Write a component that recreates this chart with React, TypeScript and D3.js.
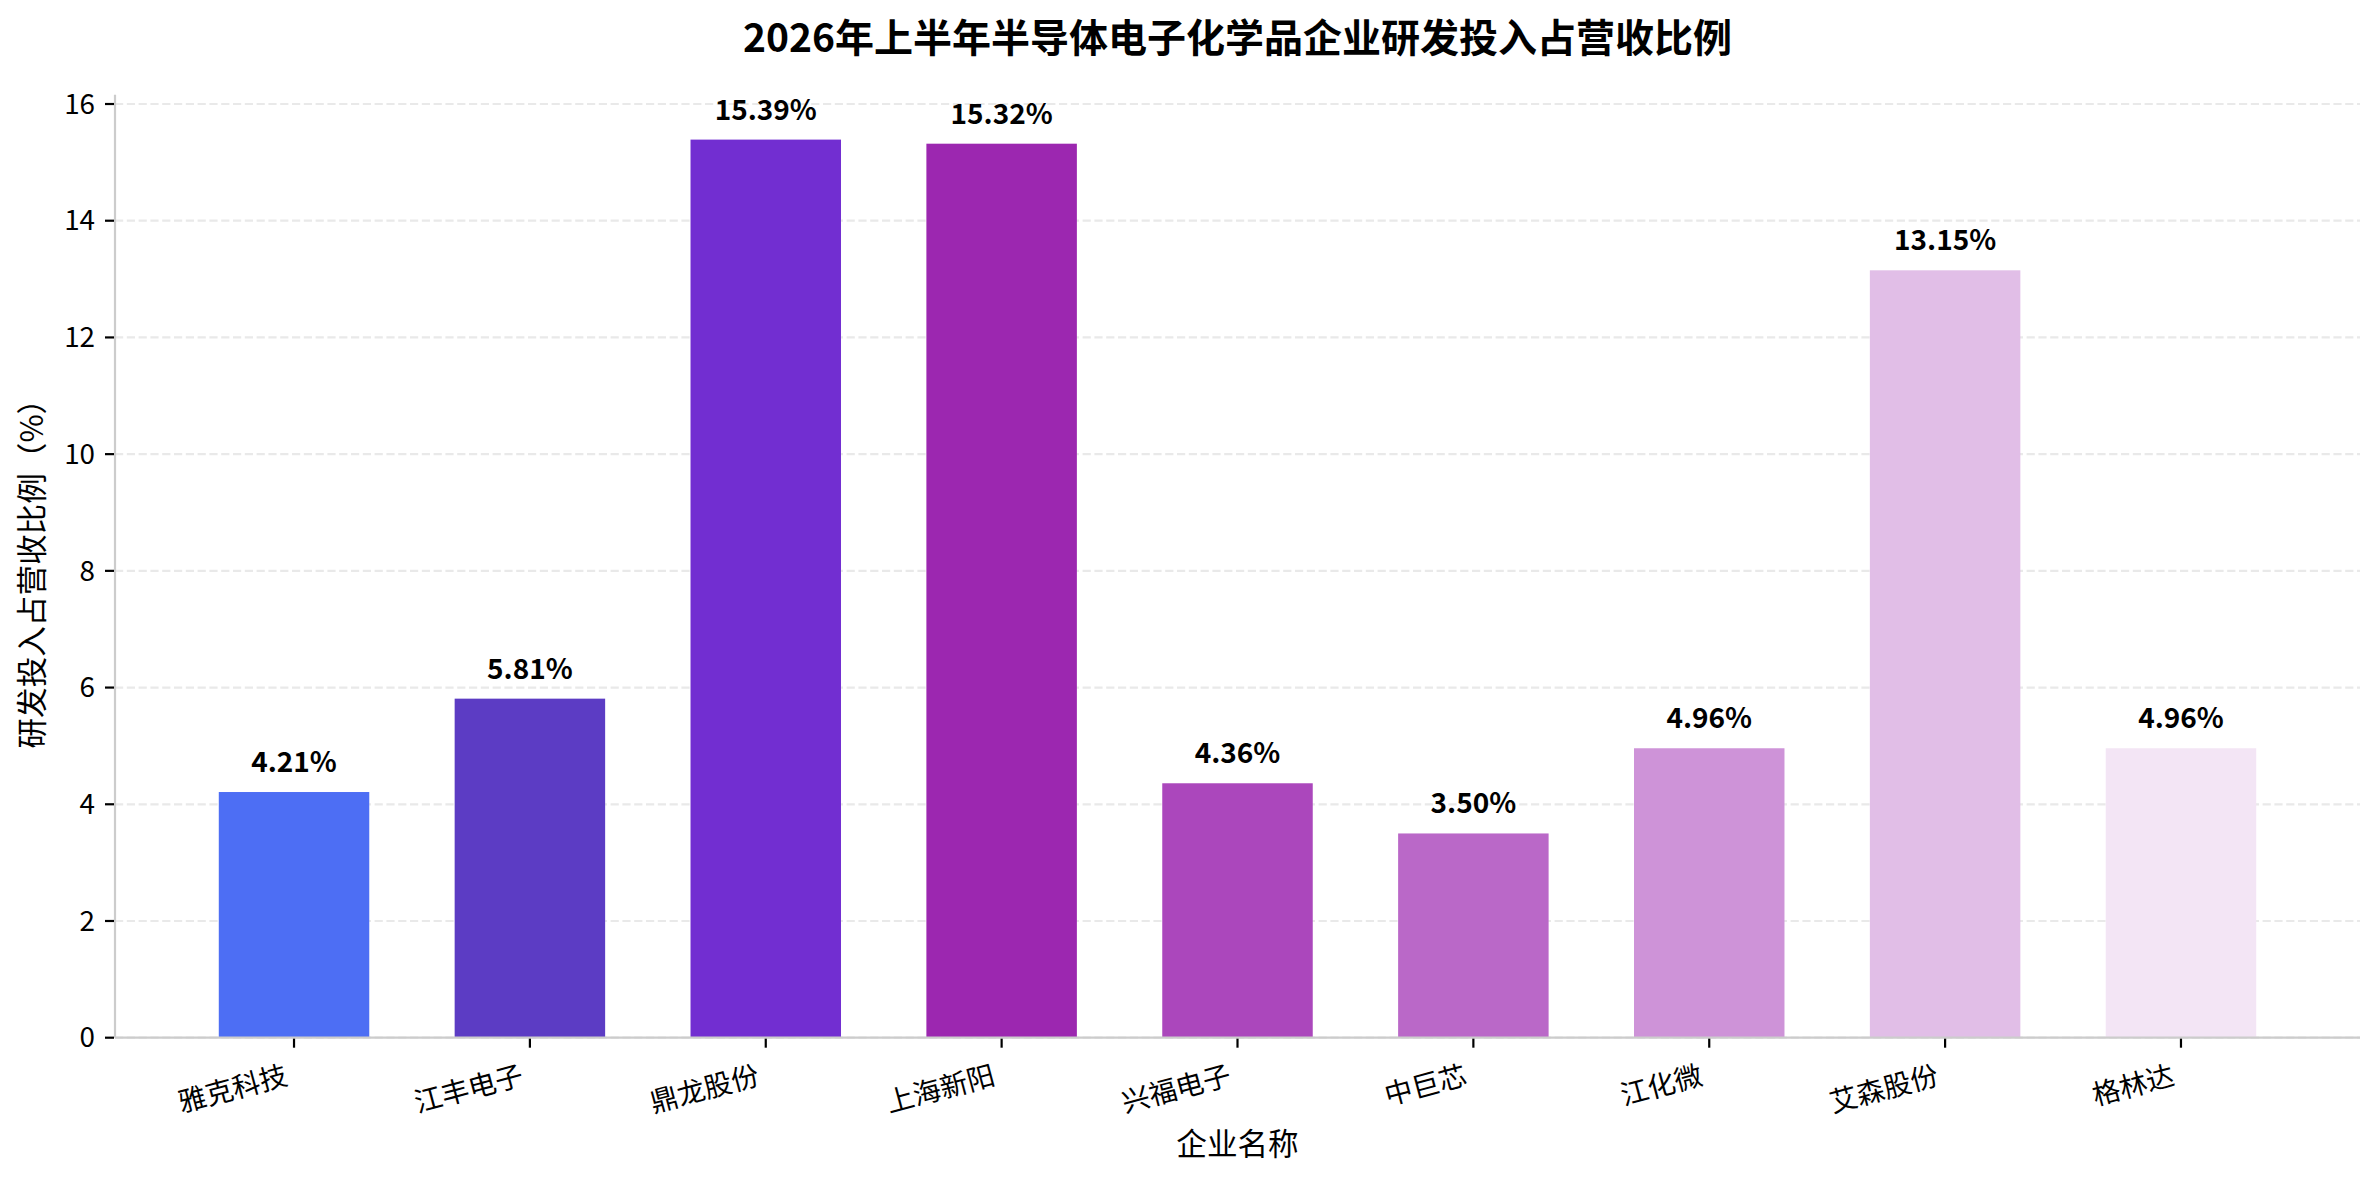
import React, { useEffect } from "react";
import * as d3 from "d3";

const companies = ["雅克科技", "江丰电子", "鼎龙股份", "上海新阳", "兴福电子", "中巨芯", "江化微", "艾森股份", "格林达"];
const ratios = [4.21, 5.81, 15.39, 15.32, 4.36, 3.5, 4.96, 13.15, 4.96];
const barColors = ["#4d6ef4", "#5c3cc4", "#722ed1", "#9c27b0", "#ab47bc", "#ba68c8", "#ce93d8", "#e1bee7", "#f3e5f5"];
const yTicks = [0, 2, 4, 6, 8, 10, 12, 14, 16];
const titleText = "2026年上半年半导体电子化学品企业研发投入占营收比例";
const xLabel = "企业名称";
const yLabel = "研发投入占营收比例（%）";

const W = 2379;
const H = 1178;
const left = 115;
const right = 2360;
const top = 94.7;
const bottom = 1037.7;
const FONT = "'Noto Sans CJK SC', 'Noto Sans', sans-serif";

export default function App() {
  useEffect(() => {
    document.body.style.margin = "0";
  }, []);

  const x = d3.scaleBand<string>().domain(companies).range([left, right]).paddingInner(0.362).paddingOuter(0.44);
  const yMax = (d3.max(ratios) as number) * 1.05;
  const y = d3.scaleLinear().domain([0, yMax]).range([bottom, top]);
  const bw = x.bandwidth();

  return (
    <svg width={W} height={H} style={{ display: "block", background: "#fff" }} fontFamily={FONT}>
      {/* title */}
      <text x={(left + right) / 2} y={52} textAnchor="middle" fontSize={39} fontWeight="bold" fill="#000">
        {titleText}
      </text>

      {/* grid */}
      {yTicks.map((t) => (
        <line key={"g" + t} x1={left} x2={right} y1={y(t)} y2={y(t)} stroke="#e9e9e9" strokeWidth={2.2} strokeDasharray="8.2,3.6" />
      ))}

      {/* bars */}
      {companies.map((c, i) => (
        <rect key={c} x={x(c)} y={y(ratios[i])} width={bw} height={y(0) - y(ratios[i])} fill={barColors[i]} />
      ))}

      {/* value labels */}
      {companies.map((c, i) => (
        <text key={"v" + c} x={(x(c) as number) + bw / 2} y={y(ratios[i]) - 20} textAnchor="middle" fontSize={28} fontWeight="bold" fill="#000">
          {ratios[i].toFixed(2) + "%"}
        </text>
      ))}

      {/* spines */}
      <line x1={left} x2={left} y1={top} y2={bottom} stroke="#cccccc" strokeWidth={2.2} />
      <line x1={left} x2={right} y1={bottom} y2={bottom} stroke="#cccccc" strokeWidth={2.2} />

      {/* y ticks */}
      {yTicks.map((t) => (
        <g key={"yt" + t}>
          <line x1={left - 10} x2={left - 1} y1={y(t)} y2={y(t)} stroke="#000" strokeWidth={2.2} />
          <text x={95} y={y(t)} dy="0.35em" textAnchor="end" fontSize={27.8} fill="#000">
            {t}
          </text>
        </g>
      ))}

      {/* x ticks */}
      {companies.map((c) => {
        const cx = (x(c) as number) + bw / 2;
        return (
          <g key={"xt" + c}>
            <line x1={cx} x2={cx} y1={bottom + 1} y2={bottom + 10} stroke="#000" strokeWidth={2.2} />
            <text transform={`translate(${cx - 5},${1084}) rotate(-15)`} textAnchor="end" fontSize={27.8} fill="#000">
              {c}
            </text>
          </g>
        );
      })}

      {/* axis labels */}
      <text x={(left + right) / 2} y={1155} textAnchor="middle" fontSize={30.6} fill="#000">
        {xLabel}
      </text>
      <text transform={`translate(43,${(top + bottom) / 2}) rotate(-90)`} textAnchor="middle" fontSize={30.6} fill="#000">
        {yLabel}
      </text>
    </svg>
  );
}
